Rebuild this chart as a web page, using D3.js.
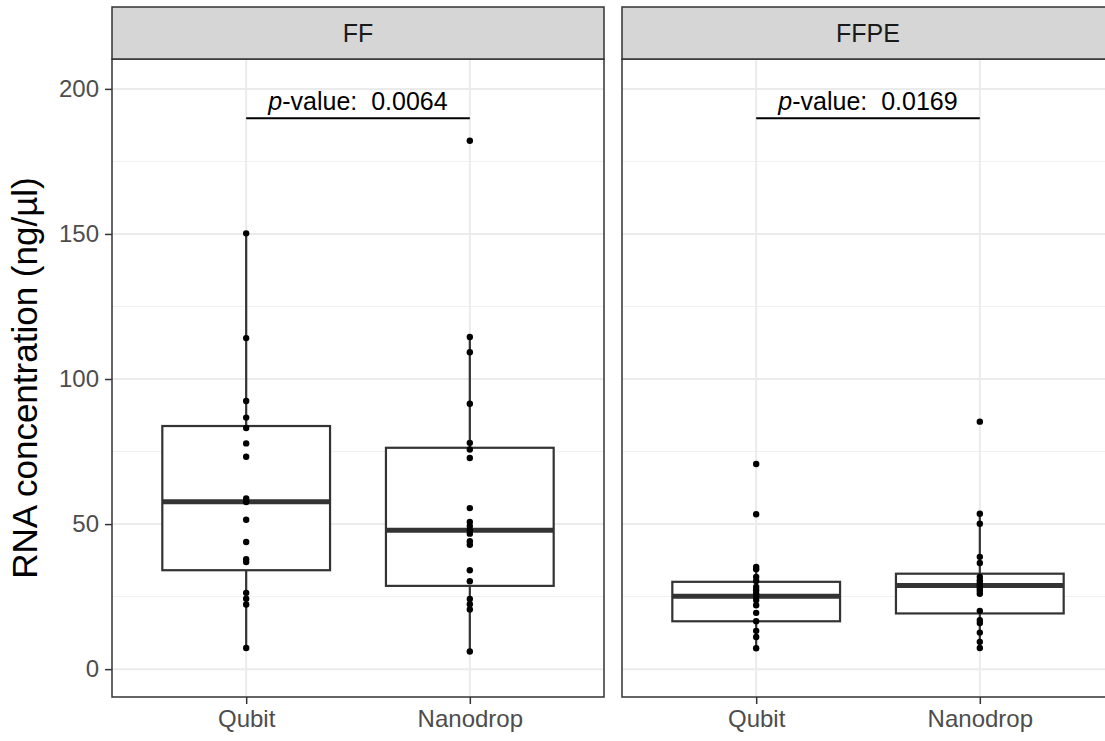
<!DOCTYPE html>
<html>
  <head>
    <meta charset="utf-8">
    <title></title>
    <style>
      body {
        margin: 0;
        background: #fff;
        font-family: "Liberation Sans", Arial, sans-serif;
      }
      svg {
        display: block;
      }
      .grid-major line {
        stroke: #ebebeb;
        stroke-width: 2;
      }
      .grid-minor line {
        stroke: #f0f0f0;
        stroke-width: 1;
      }
      .axis .domain {
        stroke: none;
      }
      .axis line {
        stroke: #333;
        stroke-width: 1.5;
      }
      .axis text {
        fill: #4d4d4d;
        font-size: 24px;
        font-family: "Liberation Sans", Arial, sans-serif;
      }
    </style>
  </head>
  <body>
    <div class="chart"></div>
    <script src="https://cdn.jsdelivr.net/npm/d3@7"></script>
    <script>

      // values
      let panels = ["FF", "FFPE"];
      let methods = ["Qubit", "Nanodrop"];
      let yTicks = [0, 50, 100, 150, 200];
      let yMinor = [25, 75, 125, 175];

      let ffQubit = [150.2, 114.1, 92.4, 86.7, 83.1, 77.8, 73.2, 58.8, 57.9, 57.6, 51.5, 43.8, 37.9, 36.9, 26.3, 24.3, 22.3, 7.3];
      let ffNanodrop = [182.1, 114.5, 109.2, 91.5, 78.0, 75.7, 72.8, 55.5, 50.7, 49.3, 47.9, 46.7, 44.1, 42.9, 34.1, 30.3, 24.2, 22.4, 20.6, 6.1];
      let ffpeQubit = [70.7, 53.4, 35.2, 34.4, 31.8, 30.4, 28.3, 27.2, 26.0, 25.0, 23.8, 22.0, 19.4, 16.5, 13.2, 11.1, 7.2];
      let ffpeNanodrop = [85.3, 53.6, 50.1, 38.7, 36.6, 31.8, 30.6, 29.7, 28.8, 27.8, 27.0, 26.0, 20.1, 16.9, 15.9, 12.6, 9.4, 7.3];

      // box stats: [lower whisker, lower hinge, median, upper hinge, upper whisker]
      let ffQubitBox = [7.3, 34.1, 57.7, 83.8, 150.2];
      let ffNanodropBox = [6.1, 28.7, 47.9, 76.3, 114.5];
      let ffpeQubitBox = [7.2, 16.5, 25.1, 30.1, 35.2];
      let ffpeNanodropBox = [7.3, 19.2, 28.8, 32.9, 53.6];

      let pValues = ["0.0064", "0.0169"];
      let bracketY = 189.9;

      let points = [[ffQubit, ffNanodrop], [ffpeQubit, ffpeNanodrop]];
      let boxes = [[ffQubitBox, ffNanodropBox], [ffpeQubitBox, ffpeNanodropBox]];

      let W = 1105, H = 741;
      let margin = {top: 7, left: 112, bottom: 44};
      let stripH = 52;
      let panelW = 492;
      let panelGap = 18;
      let panelTop = margin.top + stripH;
      let panelBottom = H - margin.bottom;

      let svg = d3.select('.chart').append('svg')
        .attr('width', W)
        .attr('height', H);

      let y = d3.scaleLinear()
        .domain([-9.6, 210.3])
        .range([panelBottom, panelTop]);

      panels.forEach((panel, pi) => {
        let x0 = margin.left + pi * (panelW + panelGap);
        let g = svg.append('g').attr('transform', 'translate(' + x0 + ',0)');

        let x = d3.scalePoint()
          .domain(methods)
          .range([0, panelW])
          .padding(0.6);
        let boxW = x.step() * 0.75;

        // panel background + grid
        g.append('rect')
          .attr('x', 0).attr('y', panelTop)
          .attr('width', panelW).attr('height', panelBottom - panelTop)
          .attr('fill', '#fff');

        g.append('g').attr('class', 'grid-minor')
          .selectAll('line').data(yMinor).join('line')
          .attr('x1', 0).attr('x2', panelW)
          .attr('y1', d => y(d)).attr('y2', d => y(d));

        g.append('g').attr('class', 'grid-major')
          .selectAll('line').data(yTicks).join('line')
          .attr('x1', 0).attr('x2', panelW)
          .attr('y1', d => y(d)).attr('y2', d => y(d));

        g.append('g').attr('class', 'grid-major')
          .selectAll('line').data(methods).join('line')
          .attr('x1', d => x(d)).attr('x2', d => x(d))
          .attr('y1', panelTop).attr('y2', panelBottom);

        // boxplots
        methods.forEach((m, mi) => {
          let s = boxes[pi][mi];
          let cx = x(m);
          let b = g.append('g');
          b.append('line')
            .attr('x1', cx).attr('x2', cx)
            .attr('y1', y(s[3])).attr('y2', y(s[4]))
            .attr('stroke', '#333').attr('stroke-width', 2.2);
          b.append('line')
            .attr('x1', cx).attr('x2', cx)
            .attr('y1', y(s[1])).attr('y2', y(s[0]))
            .attr('stroke', '#333').attr('stroke-width', 2.2);
          b.append('rect')
            .attr('x', cx - boxW / 2).attr('width', boxW)
            .attr('y', y(s[3])).attr('height', y(s[1]) - y(s[3]))
            .attr('fill', '#fff')
            .attr('stroke', '#333').attr('stroke-width', 2.2);
          b.append('line')
            .attr('x1', cx - boxW / 2).attr('x2', cx + boxW / 2)
            .attr('y1', y(s[2])).attr('y2', y(s[2]))
            .attr('stroke', '#333').attr('stroke-width', 5);

          g.append('g').selectAll('circle').data(points[pi][mi]).join('circle')
            .attr('cx', cx)
            .attr('cy', d => y(d))
            .attr('r', 3.2)
            .attr('fill', '#000');
        });

        // significance bracket
        g.append('line')
          .attr('x1', x(methods[0])).attr('x2', x(methods[1]))
          .attr('y1', y(bracketY)).attr('y2', y(bracketY))
          .attr('stroke', '#000').attr('stroke-width', 2);

        let t = g.append('text')
          .attr('x', (x(methods[0]) + x(methods[1])) / 2)
          .attr('y', y(bracketY) - 8)
          .attr('text-anchor', 'middle')
          .attr('font-size', 25)
          .attr('fill', '#000');
        t.append('tspan').attr('font-style', 'italic').text('p');
        t.append('tspan').text('-value:\u00a0\u00a0' + pValues[pi]);

        // panel border
        g.append('rect')
          .attr('x', 0).attr('y', panelTop)
          .attr('width', panelW).attr('height', panelBottom - panelTop)
          .attr('fill', 'none')
          .attr('stroke', '#333').attr('stroke-width', 1.5);

        // strip
        g.append('rect')
          .attr('x', 0).attr('y', margin.top)
          .attr('width', panelW).attr('height', stripH)
          .attr('fill', '#d6d6d6')
          .attr('stroke', '#333').attr('stroke-width', 1.5);
        g.append('text')
          .attr('x', panelW / 2)
          .attr('y', margin.top + stripH / 2)
          .attr('dy', '0.36em')
          .attr('text-anchor', 'middle')
          .attr('font-size', 25)
          .attr('fill', '#1a1a1a')
          .text(panel);

        // x axis
        g.append('g')
          .attr('class', 'axis')
          .attr('transform', 'translate(0,' + panelBottom + ')')
          .call(d3.axisBottom(x).tickSize(7).tickPadding(6));

        if (pi === 0) {
          g.append('g')
            .attr('class', 'axis')
            .call(d3.axisLeft(y).tickValues(yTicks).tickSize(7).tickPadding(6));
        }
      });

      svg.append('text')
        .attr('transform', 'translate(37,' + ((panelTop + panelBottom) / 2) + ') rotate(-90)')
        .attr('text-anchor', 'middle')
        .attr('font-size', 35)
        .attr('fill', '#000')
        .text('RNA concentration (ng/µl)');

    </script>
  </body>
</html>
